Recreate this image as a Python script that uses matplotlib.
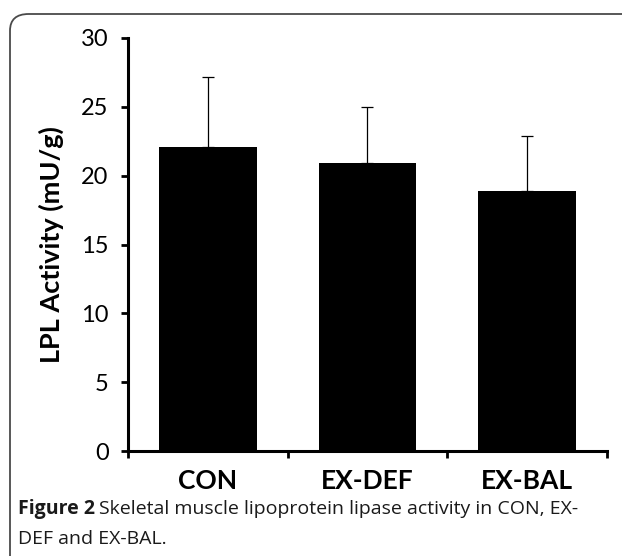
import matplotlib.pyplot as plt
from matplotlib.patches import FancyBboxPatch

# data
groups = ["CON", "EX-DEF", "EX-BAL"]
lpl_mean = [22.05, 20.9, 18.85]
lpl_err = [5.15, 4.1, 4.05]
yticks = [0, 5, 10, 15, 20, 25, 30]

fig = plt.figure(figsize=(6.22, 5.56), dpi=100)

# rounded frame around the panel (runs off right/bottom edge)
frame = FancyBboxPatch((10 / 622, -0.1), 1.2, 1 - 14 / 556 + 0.1,
                       boxstyle="round,pad=0,rounding_size=0.03",
                       transform=fig.transFigure, fill=False,
                       edgecolor="#4a4a4a", linewidth=1.3, clip_on=False)
fig.patches.append(frame)

ax = fig.add_axes([128 / 622, 1 - 451 / 556, (607 - 128) / 622, (451 - 38) / 556])

x = range(len(groups))
ax.bar(x, lpl_mean, width=0.61, color="black", zorder=2)
ax.errorbar(x, lpl_mean, yerr=[[0] * 3, lpl_err], fmt="none", ecolor="black",
            elinewidth=0.9, capsize=4, capthick=0.9, zorder=1)

ax.set_xlim(-0.5, 2.5)
ax.set_ylim(0, 30)
ax.set_yticks(yticks)
ax.set_yticklabels([str(t) for t in yticks], fontfamily="Lato", fontsize=17)

# x ticks sit between the categories, labels at the bar centres
ax.set_xticks([-0.5, 0.5, 1.5, 2.5])
ax.set_xticklabels([])
ax.set_xticks(list(x), minor=True)
ax.set_xticklabels(groups, minor=True, fontfamily="Lato", fontweight="bold", fontsize=19)
ax.tick_params(axis="x", which="minor", length=0, pad=13)
ax.tick_params(axis="x", which="major", direction="out", length=5, width=2)
ax.tick_params(axis="y", direction="out", length=5, width=2, pad=9)

for side in ["top", "right"]:
    ax.spines[side].set_visible(False)
for side in ["left", "bottom"]:
    ax.spines[side].set_linewidth(2.2)

ax.set_ylabel("LPL Activity (mU/g)", fontfamily="Lato", fontweight="bold",
              fontsize=19.5, labelpad=12)

# caption
t1 = fig.text(18 / 622, 1 - 514 / 556, "Figure 2", fontfamily="Open Sans",
              fontweight="bold", fontsize=14, color="#1a1a1a")
fig.canvas.draw()
bb = t1.get_window_extent()
fig.text(bb.x1 / 622 + 4 / 622, 1 - 514 / 556,
         "Skeletal muscle lipoprotein lipase activity in CON, EX-",
         fontfamily="Open Sans", fontsize=14, color="#1a1a1a")
fig.text(18 / 622, 1 - 544 / 556, "DEF and EX-BAL.", fontfamily="Open Sans",
         fontsize=14, color="#1a1a1a")

fig.savefig("out.png", dpi=100)
